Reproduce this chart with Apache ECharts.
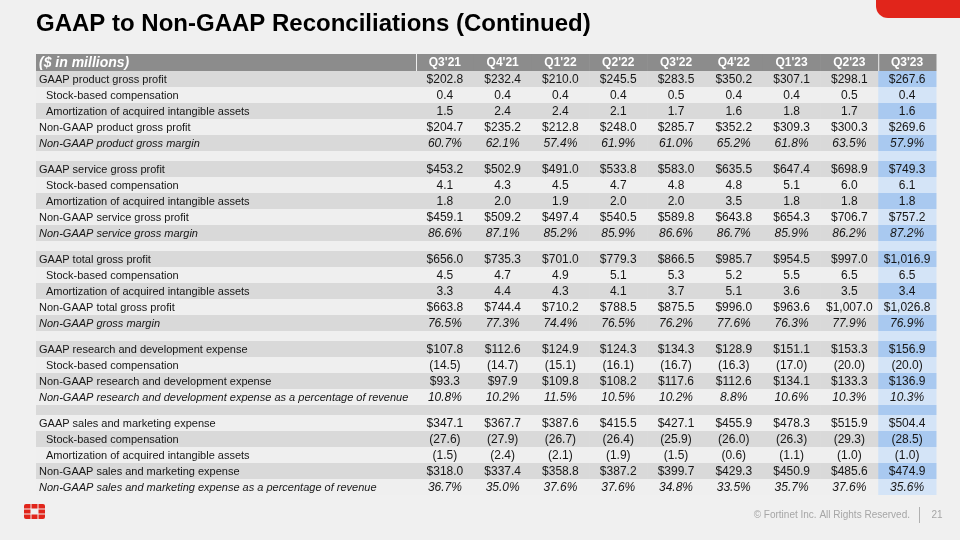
<!DOCTYPE html>
<html>
<head>
<meta charset="utf-8">
<script src="https://cdn.jsdelivr.net/npm/echarts@6/dist/echarts.min.js"></script>
<style>
html,body{margin:0;padding:0;background:#f0f0f0;}
#chart{width:960px;height:540px;}
</style>
</head>
<body>
<div id="chart"></div>
<script>
// ---------------- DATA ----------------
const quarters = ["Q3'21","Q4'21","Q1'22","Q2'22","Q3'22","Q4'22","Q1'23","Q2'23","Q3'23"];
const headerLabel = '($ in millions)';

const rowLabels = [
  'GAAP product gross profit',
  'Stock-based compensation',
  'Amortization of acquired intangible assets',
  'Non-GAAP product gross profit',
  'Non-GAAP product gross margin',
  '',
  'GAAP service gross profit',
  'Stock-based compensation',
  'Amortization of acquired intangible assets',
  'Non-GAAP service gross profit',
  'Non-GAAP service gross margin',
  '',
  'GAAP total gross profit',
  'Stock-based compensation',
  'Amortization of acquired intangible assets',
  'Non-GAAP total gross profit',
  'Non-GAAP gross margin',
  '',
  'GAAP research and development expense',
  'Stock-based compensation',
  'Non-GAAP research and development expense',
  'Non-GAAP research and development expense as a percentage of revenue',
  '',
  'GAAP sales and marketing expense',
  'Stock-based compensation',
  'Amortization of acquired intangible assets',
  'Non-GAAP sales and marketing expense',
  'Non-GAAP sales and marketing expense as a percentage of revenue'
];
// kinds: 'dollar' (main line), 'adj' (adjustment, indented), 'pct' (italic percent), 'gap' (spacer)
const rowKinds = [
  'dollar','adj','adj','dollar','pct','gap',
  'dollar','adj','adj','dollar','pct','gap',
  'dollar','adj','adj','dollar','pct','gap',
  'dollar','adj','dollar','pct','gap',
  'dollar','adj','adj','dollar','pct'
];

const gaapProductGP      = [202.8, 232.4, 210.0, 245.5, 283.5, 350.2, 307.1, 298.1, 267.6];
const sbcProduct         = [0.4, 0.4, 0.4, 0.4, 0.5, 0.4, 0.4, 0.5, 0.4];
const amortProduct       = [1.5, 2.4, 2.4, 2.1, 1.7, 1.6, 1.8, 1.7, 1.6];
const nonGaapProductGP   = [204.7, 235.2, 212.8, 248.0, 285.7, 352.2, 309.3, 300.3, 269.6];
const productMargin      = [60.7, 62.1, 57.4, 61.9, 61.0, 65.2, 61.8, 63.5, 57.9];

const gaapServiceGP      = [453.2, 502.9, 491.0, 533.8, 583.0, 635.5, 647.4, 698.9, 749.3];
const sbcService         = [4.1, 4.3, 4.5, 4.7, 4.8, 4.8, 5.1, 6.0, 6.1];
const amortService       = [1.8, 2.0, 1.9, 2.0, 2.0, 3.5, 1.8, 1.8, 1.8];
const nonGaapServiceGP   = [459.1, 509.2, 497.4, 540.5, 589.8, 643.8, 654.3, 706.7, 757.2];
const serviceMargin      = [86.6, 87.1, 85.2, 85.9, 86.6, 86.7, 85.9, 86.2, 87.2];

const gaapTotalGP        = [656.0, 735.3, 701.0, 779.3, 866.5, 985.7, 954.5, 997.0, 1016.9];
const sbcTotal           = [4.5, 4.7, 4.9, 5.1, 5.3, 5.2, 5.5, 6.5, 6.5];
const amortTotal         = [3.3, 4.4, 4.3, 4.1, 3.7, 5.1, 3.6, 3.5, 3.4];
const nonGaapTotalGP     = [663.8, 744.4, 710.2, 788.5, 875.5, 996.0, 963.6, 1007.0, 1026.8];
const totalMargin        = [76.5, 77.3, 74.4, 76.5, 76.2, 77.6, 76.3, 77.9, 76.9];

const gaapRnD            = [107.8, 112.6, 124.9, 124.3, 134.3, 128.9, 151.1, 153.3, 156.9];
const sbcRnD             = [-14.5, -14.7, -15.1, -16.1, -16.7, -16.3, -17.0, -20.0, -20.0];
const nonGaapRnD         = [93.3, 97.9, 109.8, 108.2, 117.6, 112.6, 134.1, 133.3, 136.9];
const rndPct             = [10.8, 10.2, 11.5, 10.5, 10.2, 8.8, 10.6, 10.3, 10.3];

const gaapSnM            = [347.1, 367.7, 387.6, 415.5, 427.1, 455.9, 478.3, 515.9, 504.4];
const sbcSnM             = [-27.6, -27.9, -26.7, -26.4, -25.9, -26.0, -26.3, -29.3, -28.5];
const amortSnM           = [-1.5, -2.4, -2.1, -1.9, -1.5, -0.6, -1.1, -1.0, -1.0];
const nonGaapSnM         = [318.0, 337.4, 358.8, 387.2, 399.7, 429.3, 450.9, 485.6, 474.9];
const snmPct             = [36.7, 35.0, 37.6, 37.6, 34.8, 33.5, 35.7, 37.6, 35.6];

const rowValues = [
  gaapProductGP, sbcProduct, amortProduct, nonGaapProductGP, productMargin, null,
  gaapServiceGP, sbcService, amortService, nonGaapServiceGP, serviceMargin, null,
  gaapTotalGP, sbcTotal, amortTotal, nonGaapTotalGP, totalMargin, null,
  gaapRnD, sbcRnD, nonGaapRnD, rndPct, null,
  gaapSnM, sbcSnM, amortSnM, nonGaapSnM, snmPct
];

// ---------------- LAYOUT (row units) ----------------
const H_HEADER = 17 / 16, H_ROW = 1, H_GAP = 10 / 16;
const rowY = [];
let acc = H_HEADER;
rowKinds.forEach(k => {
  const h = k === 'gap' ? H_GAP : H_ROW;
  rowY.push([acc, acc + h]);
  acc += h;
});
const TOTAL_UNITS = acc;

function fmt(kind, v) {
  if (kind === 'pct') return v.toFixed(1) + '%';
  if (kind === 'adj') return v < 0 ? '(' + Math.abs(v).toFixed(1) + ')' : v.toFixed(1);
  return '$' + v.toLocaleString('en-US', {minimumFractionDigits: 1, maximumFractionDigits: 1});
}

const FONT = '"Liberation Sans", Arial, Helvetica, sans-serif';
const C_HEADER = '#8c8c8c', C_GRAY = '#d9d9d9', C_LIGHT = '#efefef';
const C_BLUE_D = '#a9c9f0', C_BLUE_L = '#d4e4f7', C_TEXT = '#161616';

// label column data: [x, y0, y1, rowIndex] (rowIndex -1 = header)
const labelData = [[0, 0, H_HEADER, -1]];
rowKinds.forEach((k, i) => labelData.push([0, rowY[i][0], rowY[i][1], i]));

// cell data: [col, y0, y1, rowIndex]
const cellData = [];
quarters.forEach((q, c) => cellData.push([c, 0, H_HEADER, -1]));
rowKinds.forEach((k, i) => {
  quarters.forEach((q, c) => cellData.push([c, rowY[i][0], rowY[i][1], i]));
});

function renderLabel(params, api) {
  const y0 = api.value(1), y1 = api.value(2), r = api.value(3);
  const p0 = api.coord([0, y0]);
  const p1 = api.coord([1, y1]);
  const x = p0[0], y = p0[1], w = p1[0] - p0[0], h = p1[1] - p0[1];
  const children = [];
  let fill;
  if (r < 0) fill = C_HEADER;
  else fill = (r % 2 === 0) ? C_GRAY : C_LIGHT;
  children.push({type: 'rect', shape: {x: x, y: y, width: w, height: h}, style: {fill: fill}});
  if (r < 0) {
    children.push({type: 'text', style: {
      text: headerLabel, x: x + 3, y: y + h / 2 + 0.5, align: 'left', verticalAlign: 'middle',
      fill: '#ffffff', fontFamily: FONT, fontSize: 14, fontWeight: 'bold', fontStyle: 'italic'
    }});
  } else {
    const kind = rowKinds[r];
    if (kind !== 'gap') {
      children.push({type: 'text', style: {
        text: rowLabels[r], x: x + (kind === 'adj' ? 10 : 3), y: y + h / 2 + 0.5,
        align: 'left', verticalAlign: 'middle', fill: C_TEXT, fontFamily: FONT, fontSize: 11,
        fontStyle: kind === 'pct' ? 'italic' : 'normal'
      }});
    }
  }
  return {type: 'group', children: children};
}

function renderCell(params, api) {
  const c = api.value(0), y0 = api.value(1), y1 = api.value(2), r = api.value(3);
  const p0 = api.coord([c, y0]);
  const p1 = api.coord([c, y1]);
  const w = api.size([1, 0])[0];
  const x = p0[0] - w / 2, y = p0[1], h = p1[1] - p0[1];
  const last = c === quarters.length - 1;
  const children = [];
  let fill;
  if (r < 0) fill = C_HEADER;
  else if (last) fill = (r % 2 === 0) ? C_BLUE_D : C_BLUE_L;
  else fill = (r % 2 === 0) ? C_GRAY : C_LIGHT;
  children.push({type: 'rect', shape: {x: x, y: y, width: w + 0.5, height: h}, style: {fill: fill}});
  if (r < 0) {
    if (c === 0 || last) {
      children.push({type: 'line', shape: {x1: x + 0.5, y1: y, x2: x + 0.5, y2: y + h},
        style: {stroke: '#eeeeee', lineWidth: 1}});
    }
    children.push({type: 'text', style: {
      text: quarters[c], x: p0[0], y: y + h / 2 + 0.5, align: 'center', verticalAlign: 'middle',
      fill: '#ffffff', fontFamily: FONT, fontSize: 12, fontWeight: 'bold'
    }});
  } else {
    const kind = rowKinds[r];
    if (kind !== 'gap') {
      children.push({type: 'text', style: {
        text: fmt(kind, rowValues[r][c]), x: p0[0], y: y + h / 2 + 0.5,
        align: 'center', verticalAlign: 'middle', fill: C_TEXT, fontFamily: FONT, fontSize: 12,
        fontStyle: kind === 'pct' ? 'italic' : 'normal'
      }});
    }
  }
  return {type: 'group', children: children};
}

const chart = echarts.init(document.getElementById('chart'), null, {renderer: 'canvas'});
chart.setOption({
  backgroundColor: '#f0f0f0',
  animation: false,
  grid: [
    {left: 36, width: 380, top: 54, height: 441},
    {left: 416, width: 520, top: 54, height: 441}
  ],
  xAxis: [
    {gridIndex: 0, type: 'value', min: 0, max: 1, show: false},
    {gridIndex: 1, type: 'category', data: quarters, show: false}
  ],
  yAxis: [
    {gridIndex: 0, type: 'value', min: 0, max: TOTAL_UNITS, inverse: true, show: false},
    {gridIndex: 1, type: 'value', min: 0, max: TOTAL_UNITS, inverse: true, show: false}
  ],
  series: [
    {type: 'custom', xAxisIndex: 0, yAxisIndex: 0, data: labelData, renderItem: renderLabel,
     encode: {x: 0, y: [1, 2]}, clip: false, silent: true},
    {type: 'custom', xAxisIndex: 1, yAxisIndex: 1, data: cellData, renderItem: renderCell,
     encode: {x: 0, y: [1, 2]}, clip: false, silent: true}
  ],
  graphic: [
    {type: 'text', x: 36, y: 24, style: {
      text: 'GAAP to Non-GAAP Reconciliations (Continued)', fill: '#000000',
      fontFamily: FONT, fontSize: 24, fontWeight: 'bold', verticalAlign: 'middle', align: 'left'}},
    {type: 'rect', shape: {x: 876, y: -20, width: 120, height: 38, r: 12}, style: {fill: '#e1251b'}},
    // logo
    {type: 'group', x: 24, y: 504, children: [
      {type: 'rect', shape: {x: 0, y: 0, width: 6.5, height: 4.5, r: [2, 0, 0, 0]}, style: {fill: '#e1251b'}},
      {type: 'rect', shape: {x: 7.5, y: 0, width: 6, height: 4.5}, style: {fill: '#e1251b'}},
      {type: 'rect', shape: {x: 14.5, y: 0, width: 6.5, height: 4.5, r: [0, 2, 0, 0]}, style: {fill: '#e1251b'}},
      {type: 'rect', shape: {x: 0, y: 5.5, width: 6.5, height: 4}, style: {fill: '#e1251b'}},
      {type: 'rect', shape: {x: 14.5, y: 5.5, width: 6.5, height: 4}, style: {fill: '#e1251b'}},
      {type: 'rect', shape: {x: 0, y: 10.5, width: 6.5, height: 4.5, r: [0, 0, 0, 2]}, style: {fill: '#e1251b'}},
      {type: 'rect', shape: {x: 7.5, y: 10.5, width: 6, height: 4.5}, style: {fill: '#e1251b'}},
      {type: 'rect', shape: {x: 14.5, y: 10.5, width: 6.5, height: 4.5, r: [0, 0, 2, 0]}, style: {fill: '#e1251b'}}
    ]},
    {type: 'text', x: 910, y: 515, style: {
      text: '© Fortinet Inc. All Rights Reserved.', fill: '#a6a6a6', fontFamily: FONT, fontSize: 10,
      align: 'right', verticalAlign: 'middle'}},
    {type: 'line', shape: {x1: 919.5, y1: 507, x2: 919.5, y2: 523}, style: {stroke: '#b0b0b0', lineWidth: 1}},
    {type: 'text', x: 937, y: 515, style: {
      text: '21', fill: '#a6a6a6', fontFamily: FONT, fontSize: 10, align: 'center', verticalAlign: 'middle'}}
  ]
});
</script>
</body>
</html>
